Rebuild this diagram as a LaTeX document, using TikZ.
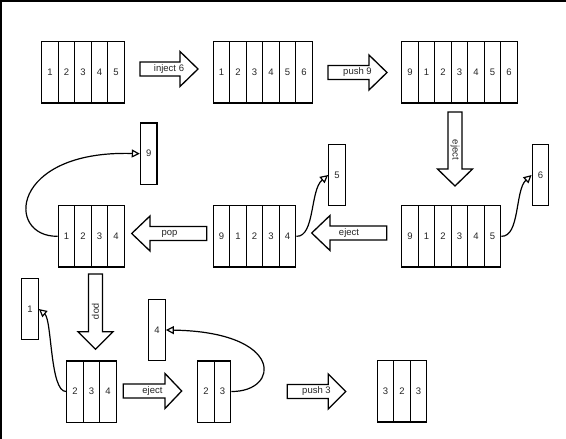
\documentclass[tikz,border=0pt]{standalone}
\usepackage{fontspec}
\setmainfont{Liberation Sans}
\usetikzlibrary{arrows.meta}
\tikzset{>=latex}
\tikzstyle{cell}=[draw,rectangle,line width=1.3pt,minimum width=16.5pt,minimum height=61.3pt,inner sep=0,fill=white,text=black!85,font=\fontsize{9.5}{11}\selectfont]
\tikzstyle{lbl}=[inner sep=1pt,text=black!85,font=\fontsize{9.5}{11}\selectfont]
\tikzstyle{blockarrow}=[draw,line width=1.3pt,fill=white]
\tikzstyle{conn}=[line width=1.2pt,-{Triangle[open,length=8pt,width=8pt]}]

\begin{document}
\begin{tikzpicture}[x=1pt,y=-1pt]

    \useasboundingbox (0,0) rectangle (566,439);
    \draw[line width=1.5pt] (0.75,439) -- (0.75,0.75) -- (566,0.75);

    % row 1
    \foreach \v [count=\i] in {1,2,3,4,5}
        \node[cell] (a\i) at (41.7+16.5*\i-8.25,72.3) {\v};
    \foreach \v [count=\i] in {1,2,3,4,5,6}
        \node[cell] (b\i) at (213.3+16.5*\i-8.25,72.3) {\v};
    \foreach \v [count=\i] in {9,1,2,3,4,5,6}
        \node[cell] (c\i) at (401.7+16.5*\i-8.25,72.3) {\v};

    \draw[blockarrow] (140,62) -- ++(40,0) -- ++(0,-10.5) -- ++(18,17.5) -- ++(-18,17.5) -- ++(0,-10.5) -- ++(-40,0) -- cycle;
    \node[lbl] (inject) at (169,69) {inject 6};
    \draw[blockarrow] (328,65.5) -- ++(41,0) -- ++(0,-10.5) -- ++(18,17.5) -- ++(-18,17.5) -- ++(0,-10.5) -- ++(-41,0) -- cycle;
    \node[lbl] (push) at (357.5,72.5) {push 9};
    \draw[blockarrow] (448,112) -- ++(0,57) -- ++(-10.5,0) -- ++(17.5,17) -- ++(17.5,-17) -- ++(-10.5,0) -- ++(0,-57) -- cycle;
    \node[lbl,rotate=-90] (ejectc) at (455,150) {eject};

    % row 2
    \foreach \v [count=\i] in {9,1,2,3,4,5}
        \node[cell] (d\i) at (401.7+16.5*\i-8.25,236.3) {\v};
    \foreach \v [count=\i] in {9,1,2,3,4}
        \node[cell] (e\i) at (213.3+16.5*\i-8.25,236.3) {\v};
    \foreach \v [count=\i] in {1,2,3,4}
        \node[cell] (f\i) at (58.3+16.5*\i-8.25,236.3) {\v};

    \node[cell] (six) at (540.5,175) {6};
    \node[cell] (five) at (337,175) {5};
    \node[cell] (nine) at (148.7,153.7) {9};

    \draw[blockarrow] (386.7,226) -- ++(-56.7,0) -- ++(0,-10.5) -- ++(-18.3,17.5) -- ++(18.3,17.5) -- ++(0,-10.5) -- ++(56.7,0) -- cycle;
    \node[lbl] (ejectd) at (349,233) {eject};
    \draw[blockarrow] (206.7,226.5) -- ++(-56.7,0) -- ++(0,-10.5) -- ++(-18.3,17.5) -- ++(18.3,17.5) -- ++(0,-10.5) -- ++(56.7,0) -- cycle;
    \node[lbl] (pope) at (169.5,233.5) {pop};

    \draw[conn] (d6.east) .. controls (520,237) and (515,190) .. (six.west);
    \draw[conn] (e5.east) .. controls (315,237) and (310,190) .. (five.west);
    \draw[conn] (f1.west) .. controls (5,237) and (10,150) .. (nine.west);

    % row 3
    \draw[blockarrow] (88.5,274) -- ++(0,57.7) -- ++(-10.5,0) -- ++(17.5,17.6) -- ++(17.5,-17.6) -- ++(-10.5,0) -- ++(0,-57.7) -- cycle;
    \node[lbl,rotate=-90] (popf) at (95.5,311.5) {pop};

    \foreach \v [count=\i] in {2,3,4}
        \node[cell] (g\i) at (66.7+16.5*\i-8.25,391.5) {\v};
    \foreach \v [count=\i] in {2,3}
        \node[cell] (h\i) at (197.7+16.5*\i-8.25,391.5) {\v};
    \foreach \v [count=\i] in {3,2,3}
        \node[cell] (i\i) at (377.3+16.5*\i-8.25,391.2) {\v};

    \node[cell] (one) at (30,309) {1};
    \node[cell] (four) at (157,330) {4};

    \draw[blockarrow] (123.3,384) -- ++(41.7,0) -- ++(0,-10.5) -- ++(16.7,17.5) -- ++(-16.7,17.5) -- ++(0,-10.5) -- ++(-41.7,0) -- cycle;
    \node[lbl] (ejectg) at (152.5,391) {eject};
    \draw[blockarrow] (287.3,384.5) -- ++(41,0) -- ++(0,-10.5) -- ++(17.4,17.5) -- ++(-17.4,17.5) -- ++(0,-10.5) -- ++(-41,0) -- cycle;
    \node[lbl] (pushh) at (316.5,391.5) {push 3};

    \draw[conn] (g1.west) .. controls (50,392) and (52,320) .. (one.east);
    \draw[conn] (h2.east) .. controls (280,392) and (285,332) .. (four.east);

\end{tikzpicture}
\end{document}
